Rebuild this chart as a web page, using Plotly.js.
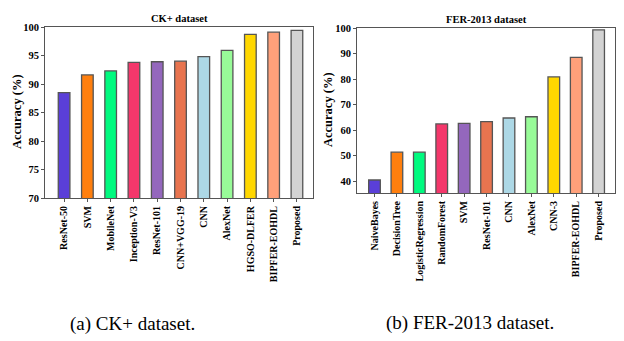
<!DOCTYPE html>
<html>
<head>
<meta charset="utf-8">
<script src="https://cdn.plot.ly/plotly-3.0.1.min.js"></script>
<style>
  html, body { margin: 0; padding: 0; background: #fff; }
  #chart { width: 624px; height: 341px; }
</style>
</head>
<body>
<div id="chart"></div>
<script>
// CK+ dataset
const ckModels = ['ResNet-50', 'SVM', 'MobileNet', 'Inception-V3', 'ResNet-101', 'CNN+VGG-19',
                  'CNN', 'AlexNet', 'HGSO-DLFER', 'BIPFER-EOHDL', 'Proposed'];
const ckAccuracy = [88.5, 91.6, 92.3, 93.8, 93.9, 94.0, 94.8, 95.9, 98.7, 99.1, 99.4];
const ckColors = ['#5a3fd8', '#ff7f0e', '#00fa7f', '#f4376b', '#9467bd', '#e8744f',
                  '#add8e6', '#98fb98', '#ffd700', '#ffa07a', '#d3d3d3'];

// FER-2013 dataset
const ferModels = ['NaiveBayes', 'DecisionTree', 'LogisticRegression', 'RandomForest', 'SVM',
                   'ResNet-101', 'CNN', 'AlexNet', 'CNN-3', 'BIPFER-EOHDL', 'Proposed'];
const ferAccuracy = [40.4, 51.3, 51.3, 62.4, 62.6, 63.3, 64.7, 65.2, 80.8, 88.5, 99.3];
const ferColors = ckColors;

const serif = 'Liberation Serif';
const boldFont = (size) => ({ family: serif, size: size, color: '#000', weight: 'bold' });

const data = [
    {
        type: 'bar', x: ckModels, y: ckAccuracy, xaxis: 'x', yaxis: 'y', width: 0.5,
        marker: { color: ckColors, line: { color: '#555', width: 1.3 } }
    },
    {
        type: 'bar', x: ferModels, y: ferAccuracy, xaxis: 'x2', yaxis: 'y2', width: 0.52,
        marker: { color: ferColors, line: { color: '#555', width: 1.3 } }
    }
];

const axisBase = {
    showline: true, mirror: true, linecolor: '#555', linewidth: 1,
    showgrid: false, zeroline: false, ticks: 'outside', ticklen: 3, tickcolor: '#555'
};

// annotation helper, positions given in pixels from top-left
function label(text, px, py, font, angle) {
    return {
        text: text, xref: 'paper', yref: 'paper', x: px / 624, y: (341 - py) / 341,
        xanchor: 'center', yanchor: 'middle', showarrow: false, font: font, textangle: angle || 0
    };
}

const layout = {
    width: 624, height: 341,
    margin: { l: 0, r: 0, t: 0, b: 0 },
    paper_bgcolor: '#fff', plot_bgcolor: '#fff',
    showlegend: false,
    xaxis: Object.assign({}, axisBase, {
        domain: [45 / 624, 313 / 624], anchor: 'y',
        range: [-0.82, 10.69], tickangle: -90, tickfont: boldFont(10)
    }),
    yaxis: Object.assign({}, axisBase, {
        domain: [143 / 341, 314 / 341], anchor: 'x',
        range: [70, 100], dtick: 5, tickfont: boldFont(10.5)
    }),
    xaxis2: Object.assign({}, axisBase, {
        domain: [357 / 624, 615 / 624], anchor: 'y2',
        range: [-0.78, 10.73], tickangle: -90, tickfont: boldFont(10)
    }),
    yaxis2: Object.assign({}, axisBase, {
        domain: [148 / 341, 313 / 341], anchor: 'x2',
        range: [35.3, 100], dtick: 10, tickfont: boldFont(10.5)
    }),
    annotations: [
        label('CK+ dataset', 180, 19, boldFont(10.5)),
        label('FER-2013 dataset', 486, 20, boldFont(10.5)),
        label('Accuracy (%)', 17, 112, boldFont(12.5), -90),
        label('Accuracy (%)', 328, 110, boldFont(12.5), -90),
        label('(a) CK+ dataset.', 132, 324, { family: serif, size: 19, color: '#000' }),
        label('(b) FER-2013 dataset.', 470, 323, { family: serif, size: 19, color: '#000' })
    ]
};

Plotly.newPlot('chart', data, layout, { displayModeBar: false, staticPlot: true });
</script>
</body>
</html>
